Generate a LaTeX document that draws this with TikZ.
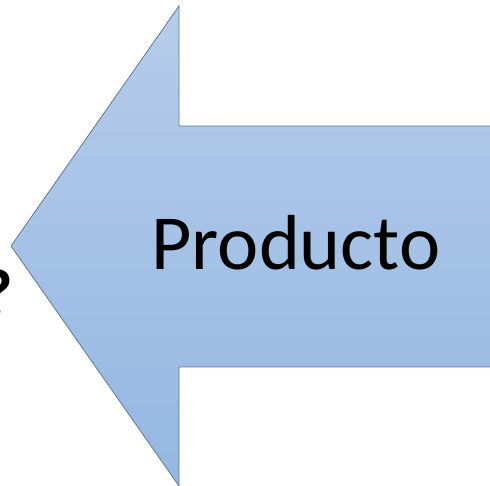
\documentclass[tikz,border=0pt]{standalone}
\usepackage{fontspec}
\setmainfont{Carlito}
\definecolor{arrowtop}{RGB}{182,204,234}
\definecolor{arrowbot}{RGB}{148,183,227}
\definecolor{arrowline}{RGB}{95,120,150}
\tikzset{
  arrowshape/.style={draw=arrowline, line width=0.8pt, line join=miter, top color=arrowtop, bottom color=arrowbot},
  bigtext/.style={font=\fontsize{78}{82}\selectfont, text=black, inner sep=0pt}
}
\begin{document}
\begin{tikzpicture}[x=1pt,y=1pt]
\useasboundingbox (0,0) rectangle (490,485);
\clip (0,0) rectangle (490,485);
\fill[white] (0,0) rectangle (490,485);
\draw[arrowshape] (11,239) -- (179,479) -- (179,359) -- (505,359) -- (505,118) -- (179,118) -- (179,-1) -- cycle;
\node[bigtext, anchor=base] (prod) at (296,215) {Producto};
\node[bigtext, font=\bfseries\fontsize{68}{72}\selectfont, anchor=base east] (q) at (13,168) {?};
\end{tikzpicture}
\end{document}
